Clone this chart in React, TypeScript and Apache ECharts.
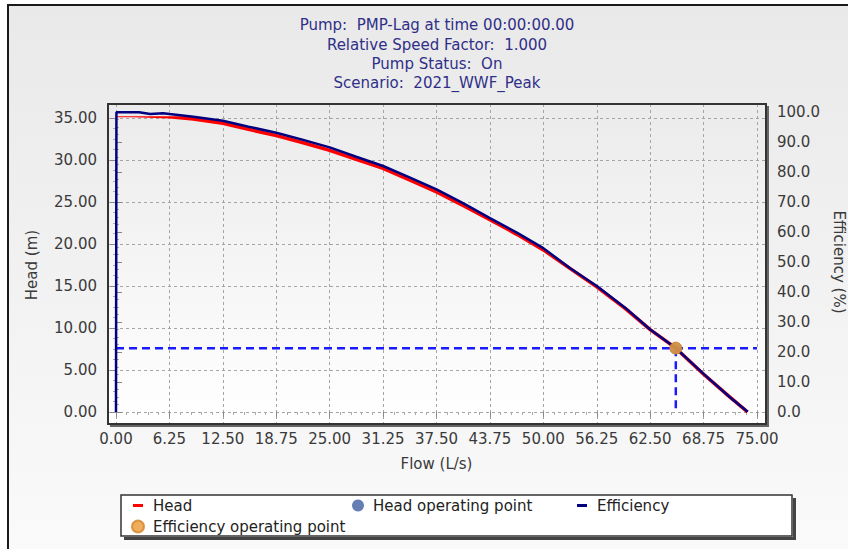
import React, { useEffect, useRef } from 'react';
import * as echarts from 'echarts';

const titleLines = [
  'Pump:  PMP-Lag at time 00:00:00.00',
  'Relative Speed Factor:  1.000',
  'Pump Status:  On',
  'Scenario:  2021_WWF_Peak',
];

const flowTicks = [0, 6.25, 12.5, 18.75, 25, 31.25, 37.5, 43.75, 50, 56.25, 62.5, 68.75, 75];

const headFlow = [0, 2.0, 6.25, 9.05, 12.5, 15.5, 18.75, 21.9, 25, 28.1, 31.25, 34.4, 37.5, 40.6, 43.75, 46.9, 50, 53.1, 56.25, 59.6, 62.5, 65.5, 68.75, 71.8, 73.9];
const headValues = [35.3, 35.3, 35.15, 34.88, 34.37, 33.65, 32.9, 32.06, 31.15, 30.08, 29.0, 27.6, 26.2, 24.6, 22.9, 21.15, 19.3, 17.1, 14.9, 12.3, 9.8, 7.6, 4.5, 1.8, 0.0];

const effFlow = [0, 0.05, 2.7, 4.0, 5.5, 6.25, 9.05, 12.5, 15.5, 18.75, 21.9, 25, 28.1, 31.25, 34.4, 37.5, 40.6, 43.75, 46.9, 50, 53.1, 56.25, 59.6, 62.5, 65.5, 68.75, 71.8, 73.9];
const effValues = [0, 99.9, 99.9, 99.3, 99.6, 99.3, 98.4, 97.1, 95.1, 93.1, 90.7, 88.2, 85.1, 82.0, 78.1, 74.2, 69.6, 64.6, 59.8, 54.6, 48.0, 42.0, 34.7, 27.5, 21.3, 12.7, 5.0, 0.1];

const opFlow = 65.5;
const opHead = 7.58;
const opEff = 21.3;
const guideFlowEnd = 75;

const legendNames = ['Head', 'Head operating point', 'Efficiency', 'Efficiency operating point'];

const FONT = '"DejaVu Sans", Verdana, sans-serif';
const LABEL_COLOR = '#3a3a3a';

export default function App() {
  const ref = useRef<HTMLDivElement>(null);
  useEffect(() => {
    if (!ref.current) return;
    const chart = echarts.init(ref.current, null, { renderer: 'svg' });
    const headData = headFlow.map((f, i) => [f, headValues[i]]);
    const effData = effFlow.map((f, i) => [f, effValues[i]]);
    const dashStyle = { color: '#1a1aff', width: 2.5, type: [8, 5] as any };
    const axisLabelStyle = { color: LABEL_COLOR, fontFamily: FONT, fontSize: 15 };
    const plotL = 108, plotT = 104, plotR = 766, plotB = 424;
    const xMin = flowTicks[0], xMax = flowTicks[flowTicks.length - 1];
    const blankX = (gridIndex: number, split: boolean) => ({
      gridIndex, type: 'value', min: xMin, max: xMax, interval: 6.25,
      axisLine: { show: false }, axisTick: { show: false }, axisLabel: { show: false },
      splitLine: split ? { show: true, lineStyle: { color: '#a5a5a5', width: 1, type: [3, 3] } } : { show: false },
    });
    const gridBase = { containLabel: false, outerBoundsMode: 'none' };
    const option: any = {
      animation: false,
      backgroundColor: '#ffffff',
      textStyle: { fontFamily: FONT },
      graphic: [
        {
          type: 'rect', z: -20, silent: true,
          shape: { x: 8, y: 5, width: 870, height: 580 },
          style: {
            fill: new echarts.graphic.LinearGradient(0, 0, 0, 1, [
              { offset: 0, color: '#e9e9e9' },
              { offset: 1, color: '#fbfbfb' },
            ]),
            stroke: '#1a1a1a', lineWidth: 2,
          },
        },
        {
          type: 'rect', z: -10, silent: true,
          shape: { x: plotL, y: plotT, width: plotR - plotL, height: plotB - plotT },
          style: {
            fill: new echarts.graphic.LinearGradient(0, 0, 0, 1, [
              { offset: 0, color: '#ebebeb' },
              { offset: 1, color: '#ffffff' },
            ]),
          },
        },
        {
          type: 'polyline', z: 99, silent: true,
          shape: { points: [[plotR + 2, plotT + 2], [plotR + 2, plotB + 2], [plotL + 2, plotB + 2]] },
          style: { stroke: '#666', lineWidth: 2, fill: 'none' },
        },
        {
          type: 'rect', z: 100, silent: true,
          shape: { x: plotL, y: plotT, width: plotR - plotL, height: plotB - plotT },
          style: { fill: 'none', stroke: '#333', lineWidth: 2 },
        },
        {
          type: 'rect', z: 100, silent: true,
          shape: { x: 121, y: 495, width: 671, height: 41 },
          style: { fill: '#ffffff', stroke: '#333', lineWidth: 1.5 },
        },
        {
          type: 'polyline', z: 100, silent: true,
          shape: { points: [[794.5, 498], [794.5, 538.5], [124, 538.5]] },
          style: { stroke: '#444', lineWidth: 3, fill: 'none' },
        },
        ...titleLines.map((t, i) => ({
          type: 'text', z: 100, silent: true,
          x: 437, y: [25, 44.5, 63.5, 83][i],
          style: {
            text: t, fill: '#2f2f88', font: `15px ${FONT}`,
            align: 'center', verticalAlign: 'middle',
            textAlign: 'center', textVerticalAlign: 'middle',
          },
        })),
      ],
      legend: {
        left: 128, top: 497, width: 670,
        itemWidth: 20, itemHeight: 12, itemGap: 4,
        padding: 0, z: 110,
        textStyle: { color: '#222', fontFamily: FONT, fontSize: 15, width: 195, lineHeight: 17, overflow: 'none' },
        data: [
          { name: legendNames[0], icon: 'path://M0,0M20,12M5,4.5H15V7.5H5Z', itemStyle: { color: '#ff0000' } },
          { name: legendNames[1], icon: 'circle', itemStyle: { color: '#3f5fa3' } },
          { name: legendNames[2], icon: 'path://M0,0M20,12M5,4.5H15V7.5H5Z', itemStyle: { color: '#000080' } },
          { name: legendNames[3], icon: 'circle', itemStyle: { color: '#ec9a34' } },
        ],
        selectedMode: false,
      },
      grid: [
        { ...gridBase, left: 116, top: 118, width: 641, height: 294 },
        { ...gridBase, left: 116, top: 112, width: 641, height: 300 },
        { ...gridBase, left: 108, top: 118, width: 658, height: 294 },
        { ...gridBase, left: 116, top: 104, width: 641, height: 320 },
      ],
      xAxis: [
        {
          gridIndex: 0, type: 'value', min: xMin, max: xMax, interval: 6.25,
          position: 'bottom', offset: 12,
          axisLine: { show: false },
          axisTick: { show: true, length: 5, lineStyle: { color: '#888' } },
          minorTick: { show: true, splitNumber: 5, length: 3, lineStyle: { color: '#aaa' } },
          splitLine: { show: false },
          axisLabel: { ...axisLabelStyle, margin: 7, formatter: (v: number) => v.toFixed(2) },
          name: 'Flow (L/s)', nameLocation: 'middle', nameGap: 32,
          nameTextStyle: { color: LABEL_COLOR, fontFamily: FONT, fontSize: 15 },
        },
        blankX(1, false),
        blankX(2, false),
        blankX(3, true),
      ],
      yAxis: [
        {
          gridIndex: 0, type: 'value', min: 0, max: 35, interval: 5, position: 'left', offset: 8,
          axisLine: { show: false },
          axisTick: { show: true, length: 6, lineStyle: { color: '#888' } },
          minorTick: { show: true, splitNumber: 4, length: 3, lineStyle: { color: '#aaa' } },
          splitLine: { show: false },
          axisLabel: { ...axisLabelStyle, margin: 11, formatter: (v: number) => v.toFixed(2) },
          name: 'Head (m)', nameLocation: 'middle', nameGap: 69, nameRotate: 90,
          nameTextStyle: { color: LABEL_COLOR, fontFamily: FONT, fontSize: 15 },
        },
        {
          gridIndex: 1, type: 'value', min: 0, max: 100, interval: 10, position: 'right', offset: 9,
          axisLine: { show: false },
          axisTick: { show: true, length: 6, lineStyle: { color: '#888' } },
          minorTick: { show: true, splitNumber: 4, length: 3, lineStyle: { color: '#aaa' } },
          splitLine: { show: false },
          axisLabel: { ...axisLabelStyle, margin: 11, formatter: (v: number) => v.toFixed(1) },
          name: 'Efficiency (%)', nameLocation: 'middle', nameGap: 65, nameRotate: -90,
          nameTextStyle: { color: LABEL_COLOR, fontFamily: FONT, fontSize: 15 },
        },
        {
          gridIndex: 2, type: 'value', min: 0, max: 35, interval: 5,
          axisLine: { show: false }, axisTick: { show: false }, axisLabel: { show: false },
          splitLine: { show: true, lineStyle: { color: '#a5a5a5', width: 1, type: [3, 3] } },
        },
        {
          gridIndex: 3, type: 'value', min: 0, max: 1, interval: 1,
          axisLine: { show: false }, axisTick: { show: false }, axisLabel: { show: false }, splitLine: { show: false },
        },
      ],
      series: [
        {
          name: legendNames[0], type: 'line', xAxisIndex: 0, yAxisIndex: 0, data: headData,
          symbol: 'none', lineStyle: { color: '#ff0000', width: 3.5 }, itemStyle: { color: '#ff0000' }, z: 3,
        },
        {
          name: 'guideH', type: 'line', xAxisIndex: 0, yAxisIndex: 0,
          data: [[0, opHead], [guideFlowEnd, opHead]], symbol: 'none', lineStyle: dashStyle, z: 4,
        },
        {
          name: 'guideV', type: 'line', xAxisIndex: 0, yAxisIndex: 0,
          data: [[opFlow, opHead], [opFlow, 0]], symbol: 'none', lineStyle: dashStyle, z: 4,
        },
        {
          name: legendNames[2], type: 'line', xAxisIndex: 1, yAxisIndex: 1, data: effData,
          symbol: 'none', lineStyle: { color: '#000080', width: 2.5 }, itemStyle: { color: '#000080' }, z: 5,
        },
        {
          name: legendNames[1], type: 'scatter', xAxisIndex: 0, yAxisIndex: 0,
          data: [[opFlow, opHead]], symbolSize: 12, itemStyle: { color: '#3f5fa3' }, z: 6,
        },
        {
          name: legendNames[3], type: 'scatter', xAxisIndex: 1, yAxisIndex: 1,
          data: [[opFlow, opEff]], symbolSize: 12, itemStyle: { color: '#ec9a34', borderColor: '#d0862a', borderWidth: 1 }, z: 7,
        },
      ],
    };
    chart.setOption(option);
    return () => chart.dispose();
  }, []);
  return <div ref={ref} style={{ position: 'absolute', left: 0, top: 0, width: 848, height: 549 }} />;
}
